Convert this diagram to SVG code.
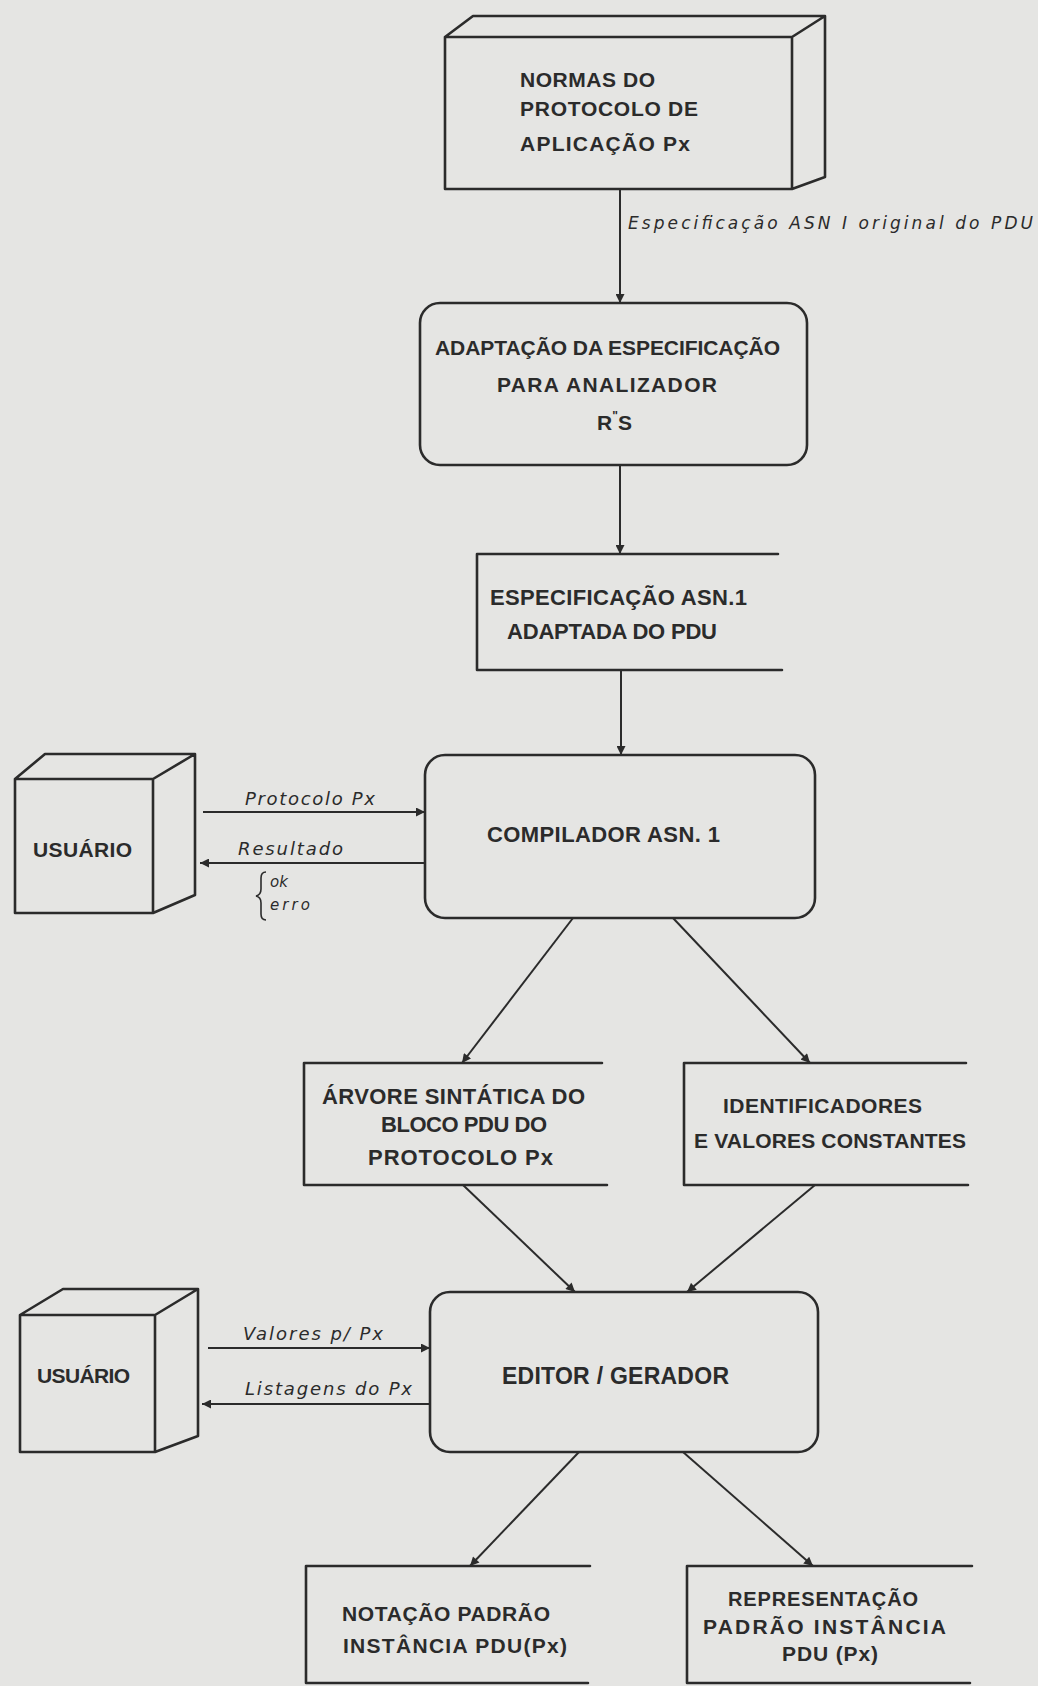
<svg xmlns="http://www.w3.org/2000/svg" width="1038" height="1686" viewBox="0 0 1038 1686">
<style>
.bg{fill:#e5e5e3}
.sh{fill:none;stroke:#2b2b2b;stroke-width:2.6;stroke-linejoin:round;stroke-linecap:round}
.cn{fill:none;stroke:#2b2b2b;stroke-width:2;marker-end:url(#ah)}
.t{font-family:"Liberation Sans",Arial,sans-serif;font-weight:bold;fill:#2b2b2b}
.i{font-family:"DejaVu Sans","Liberation Sans",sans-serif;font-style:italic;fill:#2b2b2b}
</style>
<defs>
<marker id="ah" viewBox="0 0 10 10" refX="10" refY="5" markerWidth="10" markerHeight="9" markerUnits="userSpaceOnUse" orient="auto"><path d="M0,0 L10,5 L0,10 z" fill="#2b2b2b"/></marker>
</defs>
<rect class="bg" x="0" y="0" width="1038" height="1686"/>

<g id="normas">
<path class="sh" d="M445,37 H792 V189 H445 Z M445,37 L473,16 H825 L792,37 M825,16 V177 L792,189"/>
<text class="t" font-size="21" x="520" y="87" textLength="135" lengthAdjust="spacing">NORMAS DO</text>
<text class="t" font-size="21" x="520" y="116" textLength="178" lengthAdjust="spacing">PROTOCOLO DE</text>
<text class="t" font-size="21" x="520" y="151" textLength="170" lengthAdjust="spacing">APLICAÇÃO Px</text>
</g>

<g id="adaptacao">
<rect class="sh" x="420" y="303" width="387" height="162" rx="20"/>
<text class="t" font-size="21" x="435" y="355" textLength="345" lengthAdjust="spacing">ADAPTAÇÃO DA ESPECIFICAÇÃO</text>
<text class="t" font-size="21" x="497" y="392" textLength="220" lengthAdjust="spacing">PARA ANALIZADOR</text>
<text class="t" font-size="21" x="597" y="430">R<tspan font-size="12" dy="-10">"</tspan><tspan dy="10">S</tspan></text>
</g>

<g id="especificacao">
<path class="sh" d="M778,554 H477 V670 H782"/>
<text class="t" font-size="22" x="490" y="605" textLength="257" lengthAdjust="spacing">ESPECIFICAÇÃO ASN.1</text>
<text class="t" font-size="22" x="507" y="639" textLength="210" lengthAdjust="spacing">ADAPTADA DO PDU</text>
</g>

<g id="usuario1">
<path class="sh" d="M15,779 H153 V913 H15 Z M15,779 L45,754 H195 L153,779 M195,754 V895 L153,913"/>
<text class="t" font-size="21" x="33" y="857" textLength="99" lengthAdjust="spacing">USUÁRIO</text>
</g>

<g id="compilador">
<rect class="sh" x="425" y="755" width="390" height="163" rx="20"/>
<text class="t" font-size="22" x="487" y="842" textLength="233" lengthAdjust="spacing">COMPILADOR ASN. 1</text>
</g>

<g id="arvore">
<path class="sh" d="M602,1063 H304 V1185 H607"/>
<text class="t" font-size="22" x="322" y="1104" textLength="263" lengthAdjust="spacing">ÁRVORE SINTÁTICA DO</text>
<text class="t" font-size="22" x="381" y="1132" textLength="166" lengthAdjust="spacing">BLOCO PDU DO</text>
<text class="t" font-size="22" x="368" y="1165" textLength="185" lengthAdjust="spacing">PROTOCOLO Px</text>
</g>

<g id="identificadores">
<path class="sh" d="M966,1063 H684 V1185 H968"/>
<text class="t" font-size="21" x="723" y="1113" textLength="199" lengthAdjust="spacing">IDENTIFICADORES</text>
<text class="t" font-size="21" x="694" y="1148" textLength="272" lengthAdjust="spacing">E VALORES CONSTANTES</text>
</g>

<g id="usuario2">
<path class="sh" d="M20,1315 H155 V1452 H20 Z M20,1315 L63,1289 H198 L155,1315 M198,1289 V1436 L155,1452"/>
<text class="t" font-size="21" x="37" y="1383" textLength="93" lengthAdjust="spacing">USUÁRIO</text>
</g>

<g id="editor">
<rect class="sh" x="430" y="1292" width="388" height="160" rx="20"/>
<text class="t" font-size="23" x="502" y="1384" textLength="227" lengthAdjust="spacing">EDITOR / GERADOR</text>
</g>

<g id="notacao">
<path class="sh" d="M590,1566 H306 V1683 H588"/>
<text class="t" font-size="21" x="342" y="1621" textLength="208" lengthAdjust="spacing">NOTAÇÃO PADRÃO</text>
<text class="t" font-size="21" x="343" y="1653" textLength="224" lengthAdjust="spacing">INSTÂNCIA PDU(Px)</text>
</g>

<g id="representacao">
<path class="sh" d="M972,1566 H687 V1683 H970"/>
<text class="t" font-size="20" x="728" y="1606" textLength="190" lengthAdjust="spacing">REPRESENTAÇÃO</text>
<text class="t" font-size="21" x="703" y="1634" textLength="243" lengthAdjust="spacing">PADRÃO INSTÂNCIA</text>
<text class="t" font-size="21" x="782" y="1661" textLength="96" lengthAdjust="spacing">PDU (Px)</text>
</g>

<g id="connectors">
<path class="cn" d="M620,190 V303"/>
<path class="cn" d="M620,465 V554"/>
<path class="cn" d="M621,670 V755"/>
<path class="cn" d="M203,812 H425"/>
<path class="cn" d="M425,863 H200"/>
<path class="cn" d="M573,918 L462,1063"/>
<path class="cn" d="M673,918 L810,1063"/>
<path class="cn" d="M463,1185 L575,1292"/>
<path class="cn" d="M815,1185 L687,1292"/>
<path class="cn" d="M208,1348 H430"/>
<path class="cn" d="M430,1404 H202"/>
<path class="cn" d="M579,1452 L470,1566"/>
<path class="cn" d="M683,1452 L813,1566"/>
<path fill="none" stroke="#2b2b2b" stroke-width="1.6" d="M266,872 q-5,0 -5,6 v11 q0,6 -5,7 q5,1 5,7 v11 q0,6 5,6"/>
<text class="i" font-size="17" x="628" y="229" textLength="405" lengthAdjust="spacing">Especificação ASN I original do PDU</text>
<text class="i" font-size="18" x="245" y="805" textLength="130" lengthAdjust="spacing">Protocolo Px</text>
<text class="i" font-size="18" x="238" y="855" textLength="105" lengthAdjust="spacing">Resultado</text>
<text class="i" font-size="15" x="270" y="887">ok</text>
<text class="i" font-size="15" x="270" y="910" textLength="40" lengthAdjust="spacing">erro</text>
<text class="i" font-size="18" x="243" y="1340" textLength="140" lengthAdjust="spacing">Valores p/ Px</text>
<text class="i" font-size="18" x="245" y="1395" textLength="167" lengthAdjust="spacing">Listagens do Px</text>
</g>
</svg>
